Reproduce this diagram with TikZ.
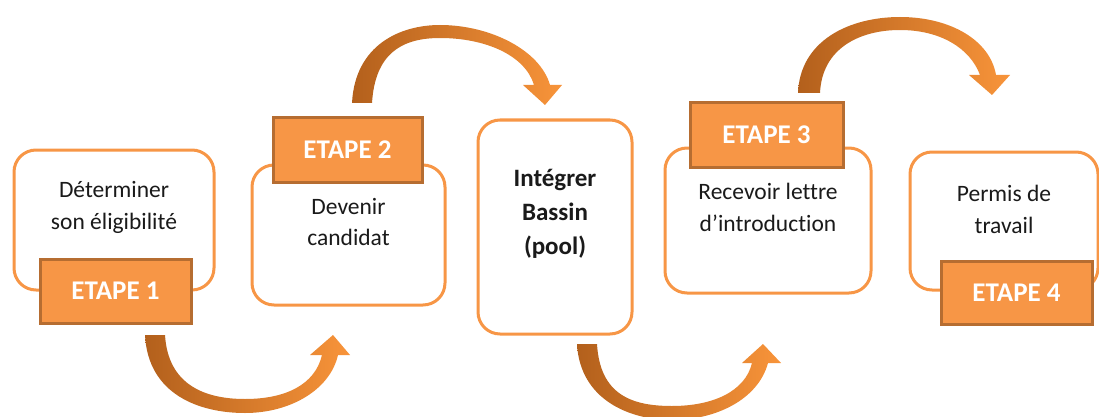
\documentclass[tikz,border=0pt]{standalone}
\usepackage{fontspec}
\setmainfont{Carlito}[Ligatures={NoCommon,NoRare,NoDiscretionary}]
\definecolor{boxorange}{HTML}{F79646}
\definecolor{labelfill}{HTML}{F79646}
\definecolor{labeldraw}{HTML}{B66D31}
\definecolor{arrowdark}{HTML}{B3601C}
\definecolor{arrowlight}{HTML}{F8943A}
\definecolor{txt}{HTML}{1A1A1A}
\tikzset{
  stepbox/.style={draw=boxorange, line width=3pt, fill=white, rounded corners=22pt, inner sep=0pt},
  steplabel/.style={draw=labeldraw, line width=3pt, fill=labelfill, inner sep=0pt, text=white, font=\fontsize{27}{30}\selectfont\bfseries},
  steptext/.style={align=center, text=txt, font=\fontsize{23.5}{32}\selectfont},
  curvedarrow/.style={left color=arrowdark, right color=arrowlight, draw=none}
}
\begin{document}
\begin{tikzpicture}[x=1pt,y=-1pt]
\useasboundingbox (0,0) rectangle (1099,417);
% curved arrows
\path[curvedarrow] (145,335) .. controls (148,395) and (200,413) .. (245,413) .. controls (290,413) and (330,390) .. (338,355)
  -- (350,355) -- (333,335) -- (310,355) -- (322,355)
  .. controls (315,385) and (285,399) .. (245,399) .. controls (205,399) and (168,385) .. (165,335) -- cycle;
\path[curvedarrow] (352,103) .. controls (355,45) and (400,25) .. (440,25) .. controls (490,25) and (540,50) .. (550,85)
  -- (562,85) -- (545,105) -- (523,85) -- (534,85)
  .. controls (525,55) and (485,38) .. (440,38) .. controls (400,38) and (375,55) .. (372,103) -- cycle;
\path[curvedarrow] (577,344) .. controls (580,400) and (630,420) .. (672,420) .. controls (715,420) and (758,400) .. (768,363)
  -- (781,363) -- (763,344) -- (742,363) -- (752,363)
  .. controls (745,392) and (712,406) .. (672,406) .. controls (632,406) and (600,395) .. (597,344) -- cycle;
\path[curvedarrow] (798,93) .. controls (800,40) and (850,17) .. (900,17) .. controls (950,17) and (990,40) .. (996,75)
  -- (1010,75) -- (992,95) -- (969,75) -- (980,75)
  .. controls (970,48) and (940,30) .. (900,30) .. controls (860,30) and (822,48) .. (820,93) -- cycle;
% boxes
\node[stepbox, minimum width=200pt, minimum height=140pt] (b1) at (114,220) {};
\node[steptext] (t1) at (114,207) {Déterminer\\son éligibilité};
\node[steplabel, minimum width=151pt, minimum height=64pt] (e1) at (115.5,291) {ETAPE 1};

\node[stepbox, minimum width=193pt, minimum height=140pt] (b2) at (348.5,235) {};
\node[steptext] (t2) at (348.5,222) {Devenir\\candidat};
\node[steplabel, minimum width=149pt, minimum height=64pt] (e2) at (347.5,150) {ETAPE 2};

\node[stepbox, minimum width=154pt, minimum height=214pt] (b5) at (555,227) {};
\node[steptext, font=\fontsize{25}{34}\selectfont\bfseries] (t5) at (555,214) {Intégrer\\Bassin\\(pool)};

\node[stepbox, minimum width=206pt, minimum height=145pt] (b3) at (768,220.5) {};
\node[steptext] (t3) at (768,207) {Recevoir lettre\\d’introduction};
\node[steplabel, minimum width=153pt, minimum height=64pt] (e3) at (766.5,135) {ETAPE 3};

\node[stepbox, minimum width=188pt, minimum height=138pt] (b4) at (1004,221) {};
\node[steptext] (t4) at (1004,209) {Permis de\\travail};
\node[steplabel, minimum width=151pt, minimum height=63pt] (e4) at (1016.5,292.5) {ETAPE 4};
\end{tikzpicture}
\end{document}
